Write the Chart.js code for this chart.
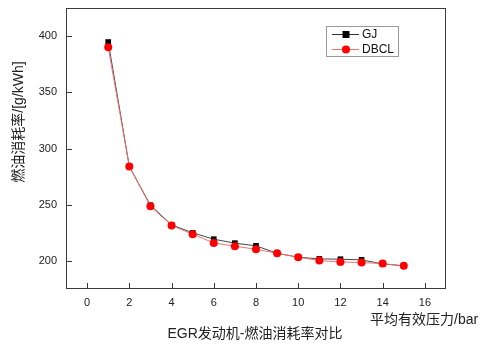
<!DOCTYPE html>
<html>
<head>
<meta charset="utf-8">
<style>
  html, body { margin: 0; padding: 0; background: #fff; }
  #wrap { width: 492px; height: 345px; }
</style>
<script src="https://cdn.jsdelivr.net/npm/chart.js@4/dist/chart.umd.min.js"></script>
</head>
<body>
<div id="wrap"><canvas id="bsfcChart"></canvas></div>
<script>
const pressure = [1, 2, 3, 4, 5, 6, 7, 8, 9, 10, 11, 12, 13, 14, 15];
const gjValues = [394.7, 284, 249.5, 232, 225, 219.3, 215.8, 213.4, 206.8, 203.3, 201.8, 201.5, 200.9, 197.3, 195.6];
const dbclValues = [390, 284, 248.6, 231.6, 223.7, 216, 213, 210.4, 206.8, 203.3, 200.3, 199, 198.6, 197.6, 195.6];
const xTicks = [0, 2, 4, 6, 8, 10, 12, 14, 16];
const yTicks = [200, 250, 300, 350, 400];

const font = '"Liberation Sans", Arial, "Noto Sans CJK SC", sans-serif';

// frame, inward ticks, legend box and texts
const decor = {
    id: 'decor',
    afterDraw(chart) {
        const { ctx, chartArea: a, scales } = chart;
        ctx.save();
        ctx.strokeStyle = '#3a3a3a';
        ctx.lineWidth = 1;
        ctx.strokeRect(a.left + 0.5, a.top + 0.5, a.right - a.left - 1, a.bottom - a.top - 1);
        ctx.beginPath();
        xTicks.forEach(v => {
            const x = Math.round(scales.x.getPixelForValue(v)) + 0.5;
            ctx.moveTo(x, a.bottom);
            ctx.lineTo(x, a.bottom - 6);
        });
        yTicks.forEach(v => {
            const y = Math.round(scales.y.getPixelForValue(v)) + 0.5;
            ctx.moveTo(a.left, y);
            ctx.lineTo(a.left + 6, y);
        });
        ctx.stroke();

        // legend
        ctx.strokeStyle = '#999';
        ctx.strokeRect(326.5, 26.5, 72, 30);
        const items = [
            { label: 'GJ', y: 34.5, line: '#333', fill: '#000', shape: 'square' },
            { label: 'DBCL', y: 49.5, line: '#f07070', fill: '#ff0000', shape: 'circle' }
        ];
        ctx.font = '12px ' + font;
        ctx.textBaseline = 'middle';
        items.forEach(it => {
            ctx.strokeStyle = it.line;
            ctx.beginPath();
            ctx.moveTo(332, it.y);
            ctx.lineTo(359, it.y);
            ctx.stroke();
            ctx.fillStyle = it.fill;
            if (it.shape === 'square') {
                ctx.fillRect(342.5, it.y - 3.5, 7, 7);
            } else {
                ctx.beginPath();
                ctx.arc(346, it.y, 4, 0, Math.PI * 2);
                ctx.fill();
            }
            ctx.fillStyle = '#111';
            ctx.textAlign = 'left';
            ctx.fillText(it.label, 362, it.y + 0.5);
        });

        // titles
        ctx.fillStyle = '#222';
        ctx.font = '14px ' + font;
        ctx.textAlign = 'center';
        ctx.fillText('EGR发动机-燃油消耗率对比', 255, 334);
        ctx.textAlign = 'left';
        ctx.fillText('平均有效压力/bar', 370, 320);
        ctx.translate(19, 122);
        ctx.rotate(-Math.PI / 2);
        ctx.textAlign = 'center';
        ctx.fillText('燃油消耗率/[g/kWh]', 0, 0);
        ctx.restore();
    }
};

new Chart(document.getElementById('bsfcChart'), {
    type: 'line',
    data: {
        datasets: [
            {
                label: 'DBCL',
                data: pressure.map((x, i) => ({ x: x, y: dbclValues[i] })),
                borderColor: '#f07070',
                borderWidth: 1,
                pointStyle: 'circle',
                pointRadius: 4,
                pointBackgroundColor: '#ff0000',
                pointBorderWidth: 0,
                tension: 0,
                order: 1
            },
            {
                label: 'GJ',
                data: pressure.map((x, i) => ({ x: x, y: gjValues[i] })),
                borderColor: '#444',
                borderWidth: 1,
                pointStyle: 'rect',
                pointRadius: 4,
                pointBackgroundColor: '#000',
                pointBorderWidth: 0,
                tension: 0,
                order: 2
            }
        ]
    },
    options: {
        responsive: true,
        maintainAspectRatio: false,
        animation: false,
        layout: { padding: { left: 0, right: 46, top: 8, bottom: 0 } },
        plugins: {
            legend: { display: false },
            tooltip: { enabled: false }
        },
        scales: {
            x: {
                type: 'linear',
                min: -1,
                max: 17,
                afterBuildTicks: s => { s.ticks = xTicks.map(v => ({ value: v })); },
                afterFit: s => { s.height = 56; s.paddingLeft = 0; s.paddingRight = 0; },
                grid: { display: false, drawTicks: false },
                border: { display: false },
                ticks: { color: '#222', padding: 7, font: { size: 11, family: font } }
            },
            y: {
                min: 175,
                max: 425,
                afterBuildTicks: s => { s.ticks = yTicks.map(v => ({ value: v })); },
                afterFit: s => { s.width = 66; s.paddingTop = 0; s.paddingBottom = 0; },
                grid: { display: false, drawTicks: false },
                border: { display: false },
                ticks: { color: '#222', padding: 9, font: { size: 11, family: font } }
            }
        }
    },
    plugins: [decor]
});
</script>
</body>
</html>
